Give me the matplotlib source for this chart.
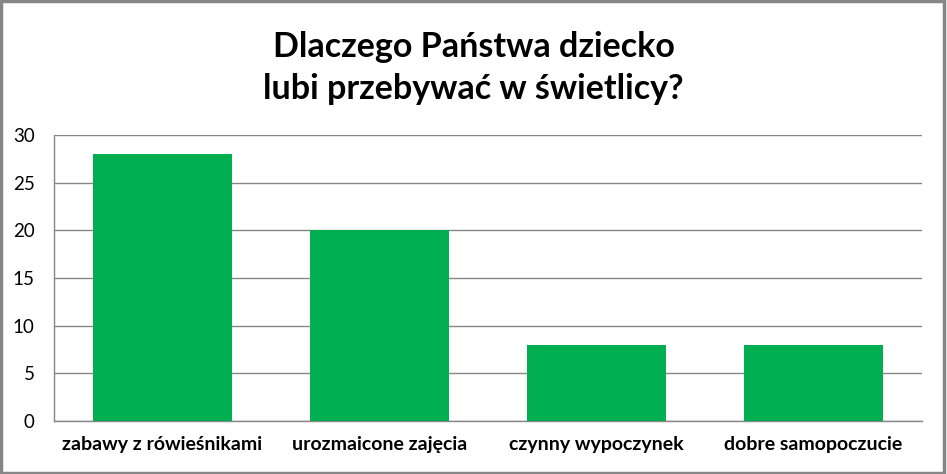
import matplotlib
matplotlib.use("Agg")
import matplotlib.pyplot as plt
from matplotlib.patches import Rectangle

categories = ["zabawy z rówieśnikami", "urozmaicone zajęcia", "czynny wypoczynek", "dobre samopoczucie"]
values = [28, 20, 8, 8]
yticks = [0, 5, 10, 15, 20, 25, 30]
title = "Dlaczego Państwa dziecko\nlubi przebywać w świetlicy?"

plt.rcParams['font.family'] = ['Lato', 'DejaVu Sans']

fig = plt.figure(figsize=(9.47, 4.74), dpi=100)
W, H = 947, 474
ax = fig.add_axes([54 / W, 1 - 421 / H, (922 - 54) / W, (421 - 135) / H])

x = list(range(len(categories)))
ax.bar(x, values, width=0.645, color="#00B050", zorder=3)
ax.set_xlim(-0.5, len(categories) - 0.5)
ax.set_ylim(0, 30)
ax.set_yticks(yticks)
ax.set_xticks(x)
ax.set_xticklabels(categories, fontsize=14, fontweight='bold')
ax.tick_params(axis='y', labelsize=13.5, length=0, pad=14)
ax.tick_params(axis='x', length=0, pad=11)
ax.grid(axis='y', color="#868686", linewidth=1, zorder=0)
for s in ['top', 'right']:
    ax.spines[s].set_visible(False)
for s in ['left', 'bottom']:
    ax.spines[s].set_color("#868686")
    ax.spines[s].set_linewidth(1)

fig.text(0.5, 1 - 68 / H, title, ha='center', va='center', fontsize=24.5,
         fontweight='bold', linespacing=1.4)

fig.patches.append(Rectangle((0.0015, 0.003), 0.995, 0.994, transform=fig.transFigure,
                             fill=False, edgecolor="#868686", linewidth=2.5))

fig.savefig("out.png", dpi=100)
